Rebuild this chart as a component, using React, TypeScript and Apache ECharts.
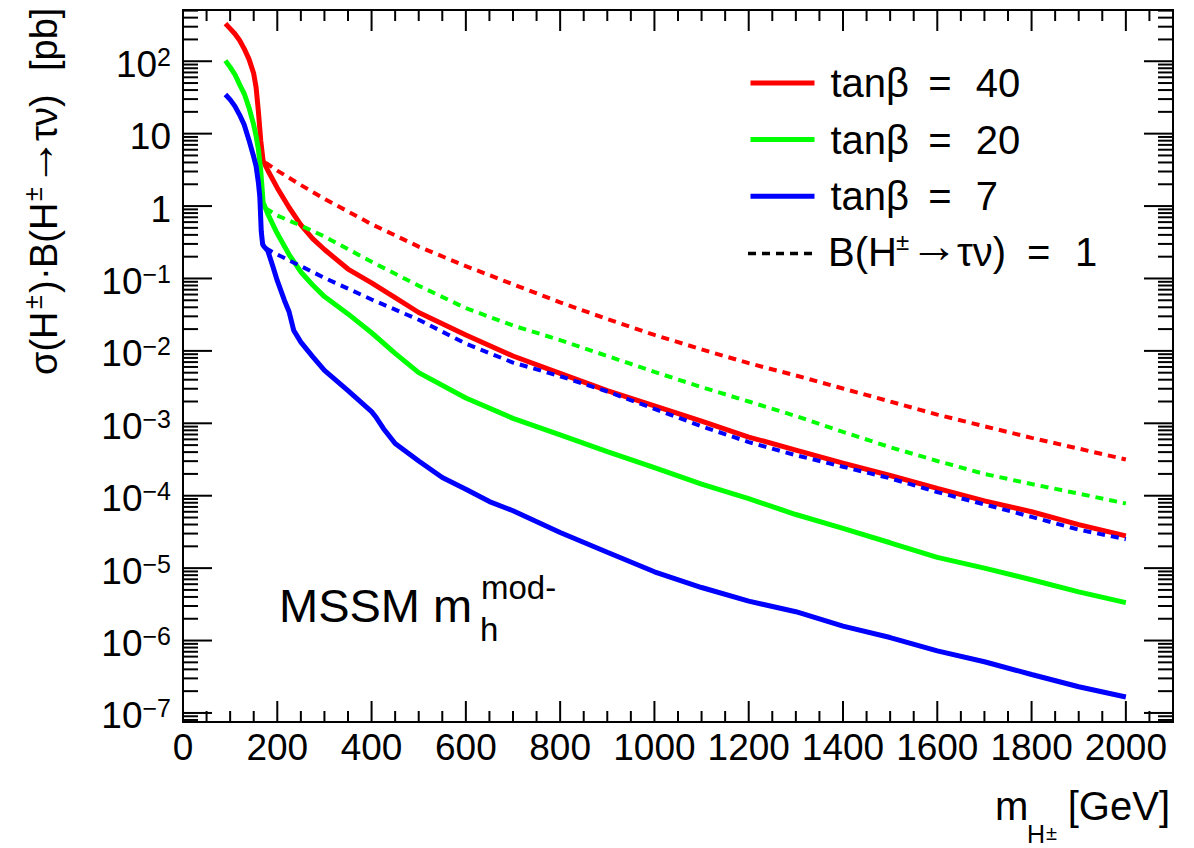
import React, { useEffect, useRef } from "react";
import * as echarts from "echarts";

// sigma(H±)·B(H±→τν) [pb] versus m_H± [GeV], MSSM m_h^mod- scenario.
// Each entry is [mass in GeV, cross section times branching ratio in pb].
const TANB40: [number, number][] = [
  [90, 331], [100, 282], [110, 240], [120, 195], [130, 148], [140, 107], [150, 67.6], [155, 43.7],
  [160, 20], [165, 7.9], [170, 4.2], [180, 3.1], [200, 1.78], [225, 0.955], [250, 0.55], [275, 0.355],
  [300, 0.251], [350, 0.135], [400, 0.087], [450, 0.0543], [500, 0.0339], [600, 0.0166], [700, 0.0085],
  [800, 0.0049], [900, 0.00282], [1000, 0.00174], [1100, 0.00107], [1200, 6.46e-4], [1300, 4.27e-4],
  [1400, 2.82e-4], [1500, 1.9e-4], [1600, 1.26e-4], [1700, 8.5e-5], [1800, 6.0e-5], [1900, 3.98e-5],
  [2000, 2.79e-5],
];
const TANB20: [number, number][] = [
  [90, 102], [100, 83], [110, 66], [120, 47.9], [130, 35.5], [140, 22.9], [150, 13.2], [155, 9.33],
  [160, 6.03], [165, 3.02], [170, 1.12], [180, 0.776], [200, 0.417], [225, 0.214], [250, 0.123],
  [275, 0.0813], [300, 0.0562], [350, 0.0324], [400, 0.0178], [450, 0.00923], [500, 0.00501],
  [600, 0.00224], [700, 0.00117], [800, 6.9e-4], [900, 4.07e-4], [1000, 2.45e-4], [1100, 1.45e-4],
  [1200, 9.1e-5], [1300, 5.5e-5], [1400, 3.55e-5], [1500, 2.24e-5], [1600, 1.41e-5], [1700, 1.0e-5],
  [1800, 6.9e-6], [1900, 4.7e-6], [2000, 3.34e-6],
];
const TANB7: [number, number][] = [
  [90, 34.7], [100, 29.5], [110, 24.0], [120, 18.2], [130, 13.2], [140, 8.13], [150, 4.79], [155, 3.55],
  [160, 2.09], [163, 1.32], [166, 0.447], [169, 0.295], [172, 0.275], [180, 0.24], [190, 0.151],
  [200, 0.0933], [215, 0.0501], [225, 0.0347], [235, 0.0191], [250, 0.0132], [275, 0.00832],
  [300, 0.00537], [350, 0.00282], [400, 0.00145], [410, 0.0012], [425, 8.5e-4], [450, 5.25e-4],
  [475, 3.98e-4], [500, 3.02e-4], [550, 1.78e-4], [600, 1.23e-4], [650, 8.3e-5], [700, 6.2e-5],
  [800, 3.1e-5], [900, 1.66e-5], [1000, 8.9e-6], [1100, 5.4e-6], [1200, 3.5e-6], [1300, 2.5e-6],
  [1400, 1.58e-6], [1500, 1.1e-6], [1600, 7.2e-7], [1700, 5.1e-7], [1800, 3.4e-7], [1900, 2.3e-7],
  [2000, 1.66e-7],
];
// Same production cross sections with B(H±→τν) = 1
const TANB40_BR1: [number, number][] = [
  [175, 3.98], [200, 3.09], [250, 1.95], [300, 1.26], [400, 0.562], [500, 0.275], [600, 0.148],
  [700, 0.0832], [800, 0.0468], [900, 0.0275], [1000, 0.0166], [1100, 0.0105], [1200, 0.00676],
  [1300, 0.00457], [1400, 0.00302], [1500, 0.002], [1600, 0.00132], [1700, 9.1e-4], [1800, 6.3e-4],
  [1900, 4.47e-4], [2000, 3.16e-4],
];
const TANB20_BR1: [number, number][] = [
  [175, 0.933], [200, 0.741], [250, 0.537], [300, 0.38], [400, 0.17], [500, 0.0794], [600, 0.0389],
  [700, 0.0224], [800, 0.0141], [900, 0.0085], [1000, 0.00513], [1100, 0.00316], [1200, 0.002],
  [1300, 0.00126], [1400, 7.6e-4], [1500, 4.68e-4], [1600, 3.02e-4], [1700, 2.0e-4], [1800, 1.45e-4],
  [1900, 1.07e-4], [2000, 7.8e-5],
];
const TANB7_BR1: [number, number][] = [
  [175, 0.263], [200, 0.214], [250, 0.148], [300, 0.102], [400, 0.0513], [500, 0.0269], [600, 0.0126],
  [700, 0.0069], [800, 0.00447], [900, 0.00275], [1000, 0.00158], [1100, 9.1e-4], [1200, 5.5e-4],
  [1300, 3.63e-4], [1400, 2.51e-4], [1500, 1.74e-4], [1600, 1.12e-4], [1700, 7.6e-5], [1800, 5.1e-5],
  [1900, 3.4e-5], [2000, 2.51e-5],
];

const SERIES_NAMES = ["tanβ = 40", "tanβ = 20", "tanβ = 7"];
const X_TICK_LABELS = ["0", "200", "400", "600", "800", "1000", "1200", "1400", "1600", "1800", "2000"];
const Y_LABEL_EXPONENTS = [-7, -6, -5, -4, -3, -2, -1, 0, 1, 2];
const Y_DECADES = [-8, -7, -6, -5, -4, -3, -2, -1, 0, 1, 2];
const Y_MINOR_MULTIPLIERS = [2, 3, 4, 5, 6, 7, 8, 9];

const X_MIN = 0;
const X_MAX = 2100;
const X_MAJOR_STEP = 200;
const X_MINOR_STEP = 50;
const Y_MIN = 7.5e-8;
const Y_MAX = 510;

const FONT = "'Liberation Sans', Arial, Helvetica, sans-serif";
const RED = "#ff0000";
const GREEN = "#00ff00";
const BLUE = "#0000ff";
const DASH = [8, 6];

// tick tables for the frame (all four sides, pointing inwards)
const X_TICKS: number[][] = [];
for (let v = X_MIN; v <= X_MAX; v += X_MINOR_STEP) X_TICKS.push([v, 1, v % X_MAJOR_STEP === 0 ? 1 : 0]);
const Y_TICKS: number[][] = [];
for (const d of Y_DECADES) {
  const base = Math.pow(10, d);
  if (base >= Y_MIN && base <= Y_MAX) Y_TICKS.push([0, base, 1]);
  for (const k of Y_MINOR_MULTIPLIERS) {
    const v = k * base;
    if (v >= Y_MIN && v <= Y_MAX) Y_TICKS.push([0, v, 0]);
  }
}
const Y_LABELS = Y_LABEL_EXPONENTS.map((e) => [0, Math.pow(10, e), e]);

const tickStyle = { stroke: "#000", lineWidth: 2 };

function solid(name: string, data: [number, number][], color: string) {
  return {
    name,
    type: "line",
    data,
    symbol: "none",
    color,
    lineStyle: { color, width: 5, type: "solid" },
    z: 3,
  };
}
function dashed(name: string, data: [number, number][], color: string) {
  return {
    name,
    type: "line",
    data,
    symbol: "none",
    color,
    lineStyle: { color, width: 4, type: DASH },
    z: 4,
  };
}

// legend entries: spread the "=" the way the typeset labels do
function legendLabel(name: string) {
  const [left, right] = name.split(" = ");
  return `{b|${left} }{e|=}{b| ${right}}`;
}

// a run of glyphs placed at x (left aligned), vertically centred at y
function glyphs(text: string, x: number, y: number, size: number) {
  return {
    type: "text",
    x,
    y,
    style: { text, fontFamily: FONT, fontSize: size, fill: "#000", align: "left", verticalAlign: "middle" },
  };
}

export default function App() {
  const ref = useRef<HTMLDivElement>(null);

  useEffect(() => {
    if (!ref.current) return;
    const chart = echarts.init(ref.current, undefined, { renderer: "svg" });

    const legendY = 252;
    const option: any = {
      animation: false,
      backgroundColor: "#fff",
      grid: {
        left: 183,
        top: 10,
        right: 21,
        bottom: 126,
        show: true,
        borderColor: "#000",
        borderWidth: 2,
        backgroundColor: "transparent",
      },
      xAxis: {
        type: "value",
        min: X_MIN,
        max: X_MAX,
        interval: X_MAJOR_STEP,
        axisLine: { show: false },
        axisTick: { show: false },
        splitLine: { show: false },
        axisLabel: {
          show: true,
          interval: 0,
          margin: 7,
          color: "#000",
          fontFamily: FONT,
          fontSize: 37,
          showMaxLabel: false,
          formatter: (v: number) => {
            const i = Math.round(v / X_MAJOR_STEP);
            return v % X_MAJOR_STEP === 0 && i < X_TICK_LABELS.length ? X_TICK_LABELS[i] : "";
          },
        },
      },
      yAxis: {
        type: "log",
        logBase: 10,
        min: Y_MIN,
        max: Y_MAX,
        axisLine: { show: false },
        axisTick: { show: false },
        splitLine: { show: false },
        axisLabel: { show: false },
      },
      legend: {
        orient: "vertical",
        left: 748,
        top: 61,
        padding: 0,
        itemWidth: 64,
        itemHeight: 20,
        itemGap: 12.6,
        selectedMode: false,
        data: SERIES_NAMES,
        itemStyle: { opacity: 0, color: "rgba(0,0,0,0)", borderWidth: 0 },
        lineStyle: { width: "inherit" },
        textStyle: {
          fontFamily: FONT,
          fontSize: 40,
          color: "#000",
          lineHeight: 44,
          padding: [0, 0, 0, 11],
          rich: {
            b: { fontFamily: FONT, fontSize: 40, lineHeight: 44, color: "#000" },
            e: { fontFamily: FONT, fontSize: 40, lineHeight: 44, color: "#000", padding: [0, 13, 0, 8] },
          },
        },
        formatter: legendLabel,
      },
      graphic: [
        // fourth legend row: the dashed curves, B(H±→τν) = 1
        {
          type: "line",
          shape: { x1: 748, y1: legendY + 1.5, x2: 812, y2: legendY + 1.5 },
          style: { stroke: "#000", lineWidth: 3.5, lineDash: DASH },
        },
        glyphs("B(H", 828, legendY, 40),
        glyphs("±", 896, legendY - 11, 24),
        glyphs("→", 910, legendY - 7, 48),
        glyphs("τν)", 957, legendY, 40),
        glyphs("=", 1027, legendY, 40),
        glyphs("1", 1075, legendY, 40),
        // y axis title σ(H±)·B(H±→τν) [pb], reading upwards and ending at the top of the frame
        {
          type: "group",
          x: 44,
          y: 375,
          rotation: Math.PI / 2,
          children: [
            glyphs("σ(H", 0, 0, 38),
            glyphs("±", 66, -11, 25),
            glyphs(")", 82, 0, 38),
            glyphs("·", 95, 0, 38),
            glyphs("B(H", 107, 0, 38),
            glyphs("±", 174, -11, 25),
            glyphs("→", 189, -7, 48),
            glyphs("τν)", 234, 0, 38),
            glyphs("[pb]", 304, 0, 38),
          ],
        },
        // x axis title  m_{H±} [GeV]
        glyphs("m", 995, 806, 40),
        glyphs("H", 1027, 834, 25),
        glyphs("±", 1046, 833, 20),
        {
          type: "text",
          x: 1170,
          y: 806,
          style: { text: "[GeV]", fontFamily: FONT, fontSize: 40, fill: "#000", align: "right", verticalAlign: "middle" },
        },
        // scenario label  MSSM m_h^{mod-}
        glyphs("MSSM m", 279, 605, 47),
        glyphs("mod-", 481, 587, 33),
        glyphs("h", 480, 629, 33),
      ],
      series: [
        solid(SERIES_NAMES[0], TANB40, RED),
        solid(SERIES_NAMES[1], TANB20, GREEN),
        solid(SERIES_NAMES[2], TANB7, BLUE),
        dashed("tanβ = 40, B = 1", TANB40_BR1, RED),
        dashed("tanβ = 20, B = 1", TANB20_BR1, GREEN),
        dashed("tanβ = 7, B = 1", TANB7_BR1, BLUE),
        // x ticks on bottom and top edges
        {
          type: "custom",
          name: "xTicks",
          silent: true,
          clip: false,
          z: 10,
          data: X_TICKS,
          renderItem: (params: any, api: any) => {
            const cs = params.coordSys;
            const x = api.coord([api.value(0), Y_MIN])[0];
            const len = api.value(2) === 1 ? 21 : 11;
            const bottom = cs.y + cs.height;
            return {
              type: "group",
              children: [
                { type: "line", shape: { x1: x, y1: bottom, x2: x, y2: bottom - len }, style: tickStyle },
                { type: "line", shape: { x1: x, y1: cs.y, x2: x, y2: cs.y + len }, style: tickStyle },
              ],
            };
          },
        },
        // y ticks on left and right edges
        {
          type: "custom",
          name: "yTicks",
          silent: true,
          clip: false,
          z: 10,
          data: Y_TICKS,
          renderItem: (params: any, api: any) => {
            const cs = params.coordSys;
            const y = api.coord([0, api.value(1)])[1];
            const len = api.value(2) === 1 ? 29 : 15;
            const right = cs.x + cs.width;
            return {
              type: "group",
              children: [
                { type: "line", shape: { x1: cs.x, y1: y, x2: cs.x + len, y2: y }, style: tickStyle },
                { type: "line", shape: { x1: right - len, y1: y, x2: right, y2: y }, style: tickStyle },
              ],
            };
          },
        },
        // decade labels 10^n
        {
          type: "custom",
          name: "yLabels",
          silent: true,
          clip: false,
          z: 10,
          data: Y_LABELS,
          renderItem: (params: any, api: any) => {
            const cs = params.coordSys;
            const y = api.coord([0, api.value(1)])[1];
            const e = api.value(2) as number;
            const text =
              e === 0 ? "{b|1}" : e === 1 ? "{b|10}" : `{b|10}{s|${e < 0 ? "−" + -e : String(e)}}`;
            return {
              type: "text",
              x: cs.x - 12,
              y: y + 3,
              style: {
                text,
                align: "right",
                verticalAlign: "middle",
                rich: {
                  b: { fontFamily: FONT, fontSize: 37, lineHeight: 40, fill: "#000" },
                  s: { fontFamily: FONT, fontSize: 25, lineHeight: 22, fill: "#000", verticalAlign: "top" },
                },
              },
            };
          },
        },
      ],
    };

    chart.setOption(option);
    return () => chart.dispose();
  }, []);

  return (
    <div
      ref={ref}
      style={{ position: "absolute", left: 0, top: 0, width: 1194, height: 848, background: "#fff" }}
    />
  );
}
